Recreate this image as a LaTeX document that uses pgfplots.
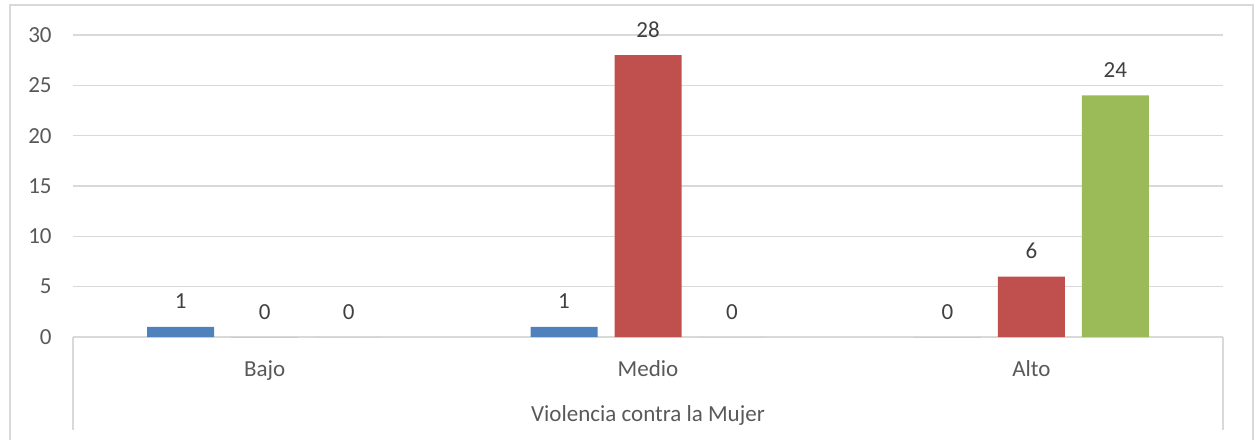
\documentclass[border=0pt]{standalone}
\usepackage{fontspec}
\setmainfont{Carlito}
\usepackage{pgfplots}
\pgfplotsset{compat=1.18}
\definecolor{cblue}{HTML}{4F81BD}
\definecolor{cred}{HTML}{C0504D}
\definecolor{cgreen}{HTML}{9BBB59}
\definecolor{gridc}{HTML}{D9D9D9}
\definecolor{tickc}{HTML}{595959}
\definecolor{labc}{HTML}{404040}
\newcommand{\lblfont}{\fontsize{11.5}{13}\selectfont}
\begin{document}
\begin{tikzpicture}
\begin{axis}[
  name=ax, scale only axis,
  width=575pt, height=151pt,
  xmin=-0.5, xmax=2.5, ymin=0, ymax=30,
  ytick={0,5,...,30},
  xtick={0,1,2}, xticklabels={Bajo,Medio,Alto},
  ymajorgrids, grid style={draw=gridc, line width=0.75pt},
  axis line style={draw=none}, major tick length=0pt,
  ybar, bar width=33.5pt, clip=false,
  tick label style={font=\lblfont, text=tickc},
  yticklabel style={anchor=east, inner sep=0pt, xshift=-10.5pt},
  xticklabel style={anchor=base, inner sep=0pt, yshift=-19.8pt},
  nodes near coords,
  every node near coord/.append style={font=\lblfont, text=labc,
    anchor=base, inner sep=0pt, yshift=9pt},
  /pgf/number format/assume math mode=true,
]
\addplot[fill=cblue, draw=none, bar shift=-42pt] coordinates {(0,1) (1,1) (2,0)};
\addplot[fill=cred, draw=none, bar shift=0pt] coordinates {(0,0) (1,28) (2,6)};
\addplot[fill=cgreen, draw=none, bar shift=42pt] coordinates {(0,0) (1,0) (2,24)};
\end{axis}
% category box
\draw[gridc, line width=0.75pt] (ax.south west) -- ++(0,-46.5pt);
\draw[gridc, line width=0.75pt] (ax.south east) -- ++(0,-46.5pt);
\node[anchor=base, font=\lblfont, text=tickc, inner sep=0pt]
  at ([yshift=-42.3pt]ax.south) {Violencia contra la Mujer};
% chart border
\draw[gridc, line width=0.75pt] ([shift={(-31.5pt,-60pt)}]ax.south west)
  rectangle ([shift={(15pt,15pt)}]ax.north east);
\pgfresetboundingbox
\path[use as bounding box] ([shift={(-36.5pt,-51pt)}]ax.south west)
  rectangle ([shift={(16pt,17.5pt)}]ax.north east);
\end{tikzpicture}
\end{document}
